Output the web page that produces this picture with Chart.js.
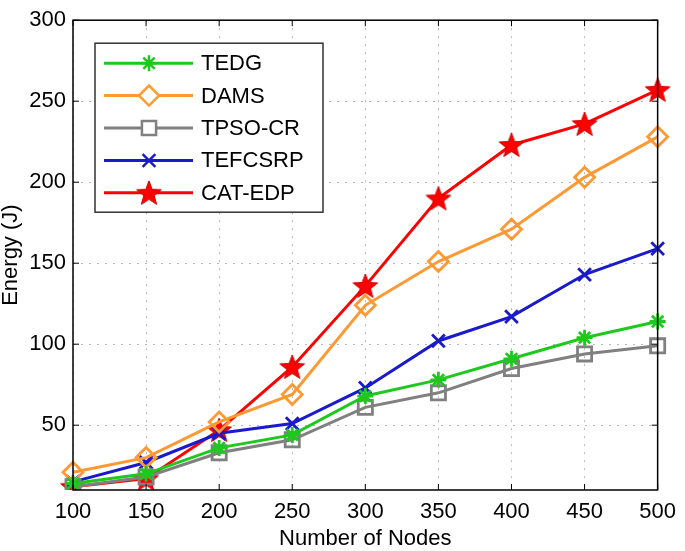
<!DOCTYPE html>
<html>
<head>
<meta charset="utf-8">
<script src="https://cdn.jsdelivr.net/npm/chart.js@4/dist/chart.umd.min.js"></script>
<style>
  html, body { margin: 0; padding: 0; background: #fff; }
  #wrap { width: 685px; height: 551px; }
</style>
</head>
<body>
<div id="wrap"><canvas id="chart"></canvas></div>
<script>
const nodes = ["100", "150", "200", "250", "300", "350", "400", "450", "500"];
const yTicks = [50, 100, 150, 200, 250, 300];

const tedg = [14, 20, 36, 44, 68, 78, 91, 104, 114];
const dams = [21, 30, 52, 69, 124, 151, 171, 203, 228];
const tpsoCr = [12, 18, 33, 41, 61, 70, 85, 94, 99];
const tefcsrp = [15, 27, 45, 51, 73, 102, 117, 143, 159];
const catEdp = [12, 17, 47, 86, 136, 190, 223, 236, 257];

const FONT = "'Liberation Sans', Arial, Helvetica, sans-serif";

// 5-point star marker (Chart.js has no pentagram point style)
function makeStar(r) {
  const c = document.createElement("canvas");
  const s = Math.ceil(r * 2 + 4);
  c.width = s;
  c.height = s;
  const g = c.getContext("2d");
  const cx = s / 2, cy = s / 2 + 1;
  g.beginPath();
  for (let i = 0; i < 10; i++) {
    const rad = i % 2 === 0 ? r : r * 0.42;
    const a = -Math.PI / 2 + (i * Math.PI) / 5;
    const px = cx + rad * Math.cos(a), py = cy + rad * Math.sin(a);
    if (i === 0) g.moveTo(px, py);
    else g.lineTo(px, py);
  }
  g.closePath();
  g.fillStyle = "#ff0000";
  g.fill();
  g.lineWidth = 1;
  g.strokeStyle = "#d00000";
  g.stroke();
  return c;
}
const starImg = makeStar(13);

const series = [
  { label: "TEDG", data: tedg, color: "#1ec81e", style: "star", radius: 8 },
  { label: "DAMS", data: dams, color: "#ff9933", style: "rectRot", radius: 10 },
  { label: "TPSO-CR", data: tpsoCr, color: "#808080", style: "rect", radius: 10 },
  { label: "TEFCSRP", data: tefcsrp, color: "#1a1acc", style: "crossRot", radius: 9 },
  { label: "CAT-EDP", data: catEdp, color: "#ff0000", style: starImg, radius: 13 },
];

// box around the plot + inward tick marks on all four sides
const boxPlugin = {
  id: "box",
  afterDatasetsDraw(chart) {
    const { ctx, chartArea: a, scales } = chart;
    ctx.save();
    ctx.strokeStyle = "#000";
    ctx.lineWidth = 1.5;
    ctx.strokeRect(a.left, a.top, a.right - a.left, a.bottom - a.top);
    ctx.lineWidth = 1;
    const t = 6;
    ctx.beginPath();
    scales.x.ticks.forEach(function (tk, i) {
      const x = scales.x.getPixelForTick(i);
      ctx.moveTo(x, a.bottom); ctx.lineTo(x, a.bottom - t);
      ctx.moveTo(x, a.top); ctx.lineTo(x, a.top + t);
    });
    scales.y.ticks.forEach(function (tk) {
      const y = scales.y.getPixelForValue(tk.value);
      ctx.moveTo(a.left, y); ctx.lineTo(a.left + t, y);
      ctx.moveTo(a.right, y); ctx.lineTo(a.right - t, y);
    });
    ctx.stroke();
    ctx.restore();
  },
};

// MATLAB-style legend: line with marker, inside a framed box
const legendPlugin = {
  id: "boxLegend",
  afterDraw(chart) {
    const { ctx, chartArea: a } = chart;
    const bx = a.left + 22, by = a.top + 23, bw = 228, bh = 169;
    ctx.save();
    ctx.fillStyle = "#fff";
    ctx.fillRect(bx, by, bw, bh);
    ctx.strokeStyle = "#333";
    ctx.lineWidth = 1.5;
    ctx.strokeRect(bx, by, bw, bh);
    series.forEach(function (s, i) {
      const y = by + 20 + i * 32.4;
      ctx.strokeStyle = s.color;
      ctx.lineWidth = 3;
      ctx.beginPath();
      ctx.moveTo(bx + 9, y);
      ctx.lineTo(bx + 98, y);
      ctx.stroke();
      ctx.lineWidth = 2.5;
      ctx.fillStyle = typeof s.style === "string" ? "#fff" : s.color;
      Chart.helpers.drawPoint(ctx, { pointStyle: s.style, radius: s.radius, borderWidth: 2.5 }, bx + 54, y);
      ctx.fillStyle = "#000";
      ctx.font = "22px " + FONT;
      ctx.textBaseline = "middle";
      ctx.fillText(s.label, bx + 106, y + 1);
    });
    ctx.restore();
  },
};

new Chart(document.getElementById("chart"), {
  type: "line",
  data: {
    labels: nodes,
    datasets: series.map(function (s) {
      return {
        label: s.label,
        data: s.data,
        borderColor: s.color,
        backgroundColor: s.color,
        borderWidth: 3,
        pointStyle: s.style,
        pointRadius: s.radius,
        pointBorderWidth: 2.8,
        pointBackgroundColor: typeof s.style === "string" ? "rgba(0,0,0,0)" : s.color,
        pointBorderColor: s.color,
        tension: 0,
      };
    }),
  },
  options: {
    responsive: true,
    maintainAspectRatio: false,
    animation: false,
    devicePixelRatio: 1,
    layout: { padding: { top: 10, right: 19, left: 0, bottom: 0 } },
    plugins: { legend: { display: false }, tooltip: { enabled: false } },
    scales: {
      x: {
        type: "category",
        offset: false,
        grid: { color: "#b8b8b8", lineWidth: 1, drawTicks: false },
        border: { display: false, dash: [2, 6] },
        ticks: { color: "#000", font: { family: FONT, size: 22 }, padding: 9, maxRotation: 0, autoSkip: false },
        title: { display: true, text: "Number of Nodes", color: "#000", font: { family: FONT, size: 22, lineHeight: 1 }, padding: { top: 0, bottom: 1 } },
        afterFit(scale) { scale.height = 61; },
      },
      y: {
        min: 10,
        max: 300,
        afterBuildTicks(scale) { scale.ticks = yTicks.map(function (v) { return { value: v }; }); },
        grid: { color: "#b8b8b8", lineWidth: 1, drawTicks: false },
        border: { display: false, dash: [2, 6] },
        ticks: { color: "#000", font: { family: FONT, size: 22 }, padding: 7 },
        title: { display: true, text: "Energy (J)", color: "#000", font: { family: FONT, size: 22, lineHeight: 1 }, padding: { top: 0, bottom: 0 } },
        afterFit(scale) { scale.width = 73; },
      },
    },
  },
  plugins: [boxPlugin, legendPlugin],
});
</script>
</body>
</html>
